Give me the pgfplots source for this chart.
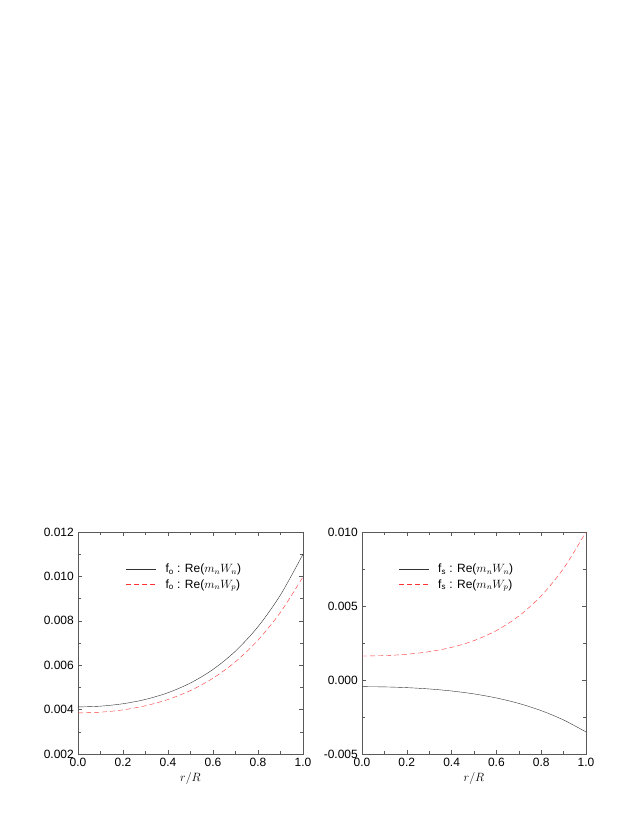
\documentclass[border=0pt]{standalone}
\usepackage{pgfplots}
\pgfplotsset{compat=1.18}
\usepackage{fontspec}
\setmainfont{Liberation Sans}
\begin{document}
\fontsize{12}{14}\selectfont
\begin{tikzpicture}
\path[use as bounding box] (0pt,0pt) rectangle (635pt,822pt);
\pgfplotsset{
  panel/.style={
    scale only axis, height=222pt, anchor=south west,
    xmin=0, xmax=1, xtick={0,0.2,...,1}, minor x tick num=1,
    xticklabel style={/pgf/number format/.cd,fixed,fixed zerofill,precision=1},
    scaled y ticks=false,
    yticklabel style={/pgf/number format/.cd,fixed,fixed zerofill,precision=3},
    /pgf/number format/assume math mode=true,
    axis line style={black!65}, every tick/.style={black!65},
    major tick length=4pt, minor tick length=3pt,
    xlabel={$r/R$}, xlabel style={yshift=2pt},
    legend cell align=left,
    legend style={draw=none, fill=none, anchor=north west, row sep=1pt,
      column sep=7pt, font=\fontsize{12}{13}\selectfont},
    legend image code/.code={\draw[#1] (0pt,0pt) -- (30pt,0pt);},
  },
  sld/.style={draw=black!80, thin},
  dsh/.style={draw=red!80, thin, dash pattern=on 5pt off 3pt},
}
\begin{axis}[panel, at={(78pt,68pt)}, width=225pt,
  ymin=0.002, ymax=0.012, ytick={0.002,0.004,...,0.012}, minor y tick num=1,
  legend style={at={(0.2,0.875)}}]
\addplot[sld, smooth] coordinates {
(0,0.00412) (0.1,0.004155) (0.2,0.004264) (0.3,0.004459) (0.4,0.004761)
(0.5,0.005199) (0.6,0.005809) (0.7,0.006636) (0.8,0.007735) (0.9,0.009167) (1,0.0110)};
\addplot[dsh, smooth] coordinates {
(0,0.00385) (0.1,0.003884) (0.2,0.003988) (0.3,0.004173) (0.4,0.004456)
(0.5,0.004859) (0.6,0.005414) (0.7,0.006157) (0.8,0.00713) (0.9,0.008386) (1,0.00998)};
\legend{f\textsubscript{o} : Re($m_nW_n$), f\textsubscript{o} : Re($m_nW_p$)}
\end{axis}
\begin{axis}[panel, at={(362pt,68pt)}, width=224pt,
  ymin=-0.005, ymax=0.010, ytick={-0.005,0,0.005,0.010}, minor y tick num=1,
  legend style={at={(0.15,0.875)}}]
\addplot[sld, smooth] coordinates {
(0,-0.00045) (0.1,-0.000466) (0.2,-0.000516) (0.3,-0.000605) (0.4,-0.000742)
(0.5,-0.000939) (0.6,-0.001213) (0.7,-0.001582) (0.8,-0.00207) (0.9,-0.002702) (1,-0.00351)};
\addplot[dsh, smooth] coordinates {
(0,0.00162) (0.1,0.001648) (0.2,0.001739) (0.3,0.001913) (0.4,0.002204)
(0.5,0.00266) (0.6,0.00334) (0.7,0.004319) (0.8,0.005686) (0.9,0.007541) (1,0.0100)};
\legend{f\textsubscript{s} : Re($m_nW_n$), f\textsubscript{s} : Re($m_nW_p$)}
\end{axis}
\end{tikzpicture}
\end{document}
